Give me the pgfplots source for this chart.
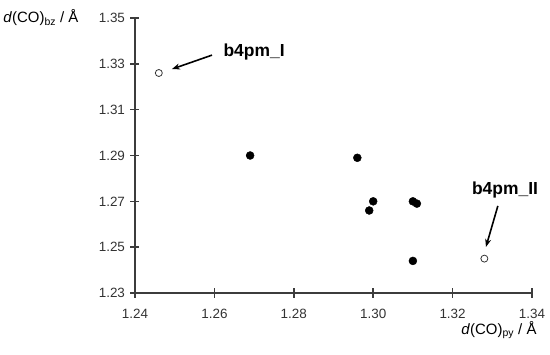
\documentclass[border=0pt]{standalone}
\usepackage{pgfplots}
\pgfplotsset{compat=1.18}
\usepackage{fontspec}
\setmainfont{Liberation Sans}
\usetikzlibrary{arrows.meta}
\definecolor{axgray}{RGB}{60,60,60}
\begin{document}
\begin{tikzpicture}
\begin{axis}[
  at={(0,0)}, anchor=south west,
  scale only axis, width=397bp, height=275bp,
  xmin=1.24, xmax=1.34, ymin=1.23, ymax=1.35,
  axis lines=left,
  axis line style={-, draw=axgray, line width=1.5pt},
  xtick={1.24,1.26,1.28,1.30,1.32,1.34}, ytick={1.23,1.25,1.27,1.29,1.31,1.33,1.35},
  tick align=center, major tick length=9bp,
  tick style={draw=axgray, line width=1.5pt},
  /pgf/number format/assume math mode=true,
  xticklabel={\pgfmathprintnumber[fixed, fixed zerofill, precision=2]{\tick}},
  yticklabel={\pgfmathprintnumber[fixed, fixed zerofill, precision=2]{\tick}},
  ticklabel style={font=\fontsize{13.5}{16}\selectfont, text=black!80},
  xticklabel style={yshift=-8bp},
  yticklabel style={xshift=-2bp},
  clip=false,
]
\draw[draw=axgray, line width=1.5pt] (rel axis cs:0,1) -- (rel axis cs:0,0) -- (rel axis cs:1,0);
\pgfplotsinvokeforeach{1.24,1.26,1.28,1.30,1.32,1.34}{
  \draw[draw=axgray, line width=1.5pt] ([yshift=-4.5bp]axis cs:#1,1.23) -- ([yshift=4.5bp]axis cs:#1,1.23);
}
\pgfplotsinvokeforeach{1.23,1.25,1.27,1.29,1.31,1.33,1.35}{
  \draw[draw=axgray, line width=1.5pt] ([xshift=-4.5bp]axis cs:1.24,#1) -- ([xshift=4.5bp]axis cs:1.24,#1);
}
\addplot[only marks, mark=*, mark size=4bp, black] coordinates {
  (1.269,1.290) (1.296,1.289) (1.300,1.270) (1.299,1.266)
  (1.310,1.270) (1.311,1.269) (1.310,1.244)
};
\addplot[only marks, mark=o, mark size=3.5bp, black!80, mark options={line width=0.8pt}] coordinates {
  (1.246,1.326) (1.328,1.245)
};
\node[font=\fontsize{17.5}{20}\selectfont\bfseries] at (axis cs:1.2700,1.3351) {b4pm\_I};
\draw[-{Stealth[length=8bp,width=6bp]}, line width=1.6pt] (axis cs:1.2594,1.3338) -- (axis cs:1.2493,1.3277);
\node[font=\fontsize{17.5}{20}\selectfont\bfseries] at (axis cs:1.3332,1.2749) {b4pm\_II};
\draw[-{Stealth[length=8bp,width=6bp]}, line width=1.6pt] (axis cs:1.3314,1.2680) -- (axis cs:1.3284,1.2501);
\node[anchor=east, font=\fontsize{15}{17}\selectfont] at (rel axis cs:0,1) [xshift=-53bp] {\textit{d}(CO)\textsubscript{bz} / Å};
\node[anchor=east, font=\fontsize{15}{17}\selectfont] at (rel axis cs:1,0) [xshift=8bp, yshift=-37bp] {\textit{d}(CO)\textsubscript{py} / Å};
\end{axis}
\pgfresetboundingbox
\path[use as bounding box] (-135bp,-62bp) rectangle (415bp,293bp);
\end{tikzpicture}
\end{document}
